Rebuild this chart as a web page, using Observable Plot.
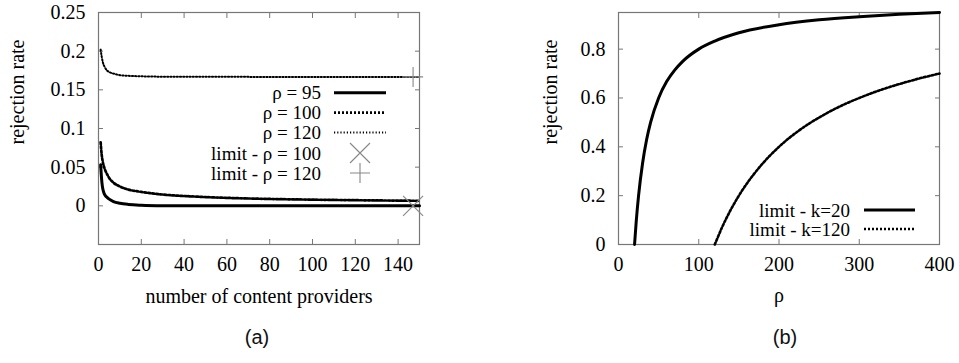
<!DOCTYPE html>
<html><head><meta charset="utf-8">
<script src="https://cdn.jsdelivr.net/npm/d3@7"></script>
<script src="https://cdn.jsdelivr.net/npm/@observablehq/plot@0.6"></script>
<style>
body{margin:0;background:#fff;}
#wrap{position:relative;width:959px;height:363px;background:#fff;overflow:hidden;}
#wrap svg text{font-family:"Liberation Serif","Times New Roman",serif !important;}
.panel{position:absolute;top:0;}
.cap{position:absolute;font-family:"Liberation Sans",Arial,sans-serif;font-size:20px;transform:translate(-50%,-50%);color:#111;}
#legend{position:absolute;left:0;top:0;pointer-events:none;}
</style></head><body>
<div id="wrap"></div>
<script>
// ---------- data: panel (a) ----------
const n95 = [1, 1.3, 1.6, 2, 2.5, 3, 4, 5, 7, 10, 14, 20, 30, 50, 100, 150];
const rate95 = [0.053, 0.040, 0.030, 0.022, 0.017, 0.014, 0.011, 0.0086, 0.0055, 0.0033, 0.0018, 0.0008, 0.0002, 0, 0, 0];
const n100 = [1, 1.5, 2, 3, 4, 5, 7, 10, 14, 20, 30, 45, 60, 80, 100, 120, 150];
const rate100 = [0.082, 0.066, 0.057, 0.047, 0.041, 0.036, 0.030, 0.025, 0.021, 0.018, 0.0146, 0.012, 0.0103, 0.0089, 0.008, 0.0073, 0.0065];
const n120 = [1, 1.5, 2, 3, 4, 5, 7, 10, 15, 20, 30, 60, 100, 150];
const rate120 = [0.202, 0.193, 0.186, 0.179, 0.175, 0.173, 0.171, 0.169, 0.168, 0.1675, 0.167, 0.1668, 0.1667, 0.1667];
const limitN = [147, 147];
const limitRate = [0, 0.1667];
const seriesA = ["ρ = 95", "ρ = 100", "ρ = 120"];
const limitLabelsA = ["limit - ρ = 100", "limit - ρ = 120"];
const xTicksA = [0, 20, 40, 60, 80, 100, 120, 140];
const yTicksA = [0, 0.05, 0.1, 0.15, 0.2, 0.25];
const yTickLabelsA = ["0", "0.05", "0.1", "0.15", "0.2", "0.25"];
const xTitleA = "number of content providers";
// ---------- data: panel (b) ----------
const rhoK20 = [20, 22, 25, 30, 35, 40, 50, 60, 70, 80, 100, 120, 150, 200, 250, 300, 350, 400];
const rateK20 = [0, 0.091, 0.2, 0.333, 0.429, 0.5, 0.6, 0.667, 0.714, 0.75, 0.8, 0.833, 0.867, 0.9, 0.92, 0.933, 0.943, 0.95];
const rhoK120 = [120, 130, 140, 150, 175, 200, 225, 250, 275, 300, 325, 350, 375, 400];
const rateK120 = [0, 0.077, 0.143, 0.2, 0.314, 0.4, 0.467, 0.52, 0.564, 0.6, 0.631, 0.657, 0.68, 0.7];
const seriesB = ["limit - k=20", "limit - k=120"];
const xTicksB = [0, 100, 200, 300, 400];
const yTicksB = [0, 0.2, 0.4, 0.6, 0.8];
const yTickLabelsB = ["0", "0.2", "0.4", "0.6", "0.8"];
const xTitleB = "ρ";
const yTitle = "rejection rate";
const captions = ["(a)", "(b)"];

// ---------- styles ----------
const FONT = '"Liberation Serif","Times New Roman",serif';
const FS = 20;
const FS_LEGEND = 19;
const FRAME = "#777";
const styleSolid = {stroke: "#000", strokeWidth: 3, strokeDasharray: null};
const styleDash = {stroke: "#000", strokeWidth: 2.7, strokeDasharray: "2,2"};
const styleDot = {stroke: "#000", strokeWidth: 2, strokeDasharray: "1.2,2"};
const styleDashB = {stroke: "#000", strokeWidth: 2.6, strokeDasharray: "2,2"};
const MARK = "#888";

const timesSym = {draw(ctx, size) {const r = Math.sqrt(size / Math.PI); ctx.moveTo(-r, -r); ctx.lineTo(r, r); ctx.moveTo(-r, r); ctx.lineTo(r, -r);}};
const plusSym = {draw(ctx, size) {const r = Math.sqrt(size / Math.PI); ctx.moveTo(-r, 0); ctx.lineTo(r, 0); ctx.moveTo(0, -r); ctx.lineTo(0, r);}};

const zip = (xs, ys) => xs.map((x, i) => ({x, y: ys[i]}));

function frameAxes(xTicks, yTicks, yLabels) {
  return [
    Plot.frame({stroke: FRAME, strokeWidth: 1.2}),
    Plot.axisX(xTicks, {anchor: "bottom", tickSize: -5, tickPadding: 17.5, stroke: FRAME, fill: "#000", label: null, fontSize: FS}),
    Plot.axisX(xTicks, {anchor: "top", tickSize: -5, tickFormat: () => "", stroke: FRAME, label: null}),
    Plot.axisY(yTicks, {anchor: "left", tickSize: -5, tickPadding: 18, stroke: FRAME, fill: "#000", label: null, fontSize: FS,
      tickFormat: d => yLabels[yTicks.indexOf(d)]}),
    Plot.axisY(yTicks, {anchor: "right", tickSize: -5, tickFormat: () => "", stroke: FRAME, label: null})
  ];
}

const wrap = document.getElementById("wrap");

const plotA = Plot.plot({
  width: 480, height: 310,
  marginLeft: 98, marginRight: 61, marginTop: 12, marginBottom: 66,
  style: {fontFamily: FONT, fontSize: FS + "px", background: "transparent", overflow: "visible"},
  x: {domain: [0, 150]},
  y: {domain: [-0.05, 0.25]},
  marks: [
    ...frameAxes(xTicksA, yTicksA, yTickLabelsA),
    Plot.line(zip(n120, rate120), {x: "x", y: "y", curve: "monotone-x", ...styleDot}),
    Plot.line(zip(n100, rate100), {x: "x", y: "y", curve: "monotone-x", ...styleDash}),
    Plot.line(zip(n95, rate95), {x: "x", y: "y", curve: "monotone-x", ...styleSolid}),
    Plot.dot([zip(limitN, limitRate)[0]], {x: "x", y: "y", r: 10, symbol: timesSym, fill: "none", stroke: MARK, strokeWidth: 1.1}),
    Plot.dot([zip(limitN, limitRate)[1]], {x: "x", y: "y", r: 10, symbol: plusSym, fill: "none", stroke: MARK, strokeWidth: 1.1}),
    Plot.text([yTitle], {text: d => d, frameAnchor: "left", textAnchor: "middle", rotate: -90, dx: -81, dy: -36.5, fontSize: FS}),
    Plot.text([xTitleA], {text: d => d, frameAnchor: "bottom", textAnchor: "middle", dy: 52, lineAnchor: "middle", fontSize: FS})
  ]
});
plotA.classList.add("panel");
plotA.style.left = "0px";
wrap.appendChild(plotA);

const plotB = Plot.plot({
  width: 479, height: 310,
  marginLeft: 138, marginRight: 20, marginTop: 12, marginBottom: 66,
  style: {fontFamily: FONT, fontSize: FS + "px", background: "transparent", overflow: "visible"},
  x: {domain: [0, 400]},
  y: {domain: [0, 0.95]},
  marks: [
    ...frameAxes(xTicksB, yTicksB, yTickLabelsB),
    Plot.line(zip(rhoK120, rateK120), {x: "x", y: "y", curve: "monotone-x", ...styleDashB}),
    Plot.line(zip(rhoK20, rateK20), {x: "x", y: "y", curve: "monotone-x", ...styleSolid}),
    Plot.text([yTitle], {text: d => d, frameAnchor: "left", textAnchor: "middle", rotate: -90, dx: -68, dy: -36.5, fontSize: FS}),
    Plot.text([xTitleB], {text: d => d, frameAnchor: "bottom", textAnchor: "middle", dy: 51, lineAnchor: "middle", fontSize: FS})
  ]
});
plotB.classList.add("panel");
plotB.style.left = "480px";
wrap.appendChild(plotB);

// captions
[[257, 337], [785, 337]].forEach((p, i) => {
  const d = document.createElement("div");
  d.className = "cap";
  d.style.left = p[0] + "px"; d.style.top = p[1] + "px";
  d.textContent = captions[i];
  wrap.appendChild(d);
});

// legends (overlay)
const svg = d3.select(wrap).append("svg").attr("id", "legend").attr("width", 959).attr("height", 363)
  .style("font-size", FS_LEGEND + "px");
function legendRow(g, y, label, textX, x1, x2, style, symbol) {
  g.append("text").attr("x", textX).attr("y", y).attr("text-anchor", "end").attr("dominant-baseline", "central").text(label);
  if (style) {
    g.append("line").attr("x1", x1).attr("x2", x2).attr("y1", y).attr("y2", y)
      .attr("stroke", style.stroke).attr("stroke-width", style.strokeWidth)
      .attr("stroke-dasharray", style.strokeDasharray);
  } else {
    const p = d3.path(); symbol.draw(p, Math.PI * 100);
    g.append("path").attr("d", p.toString()).attr("transform", `translate(${(x1 + x2) / 2},${y})`)
      .attr("fill", "none").attr("stroke", MARK).attr("stroke-width", 1.1);
  }
}
const gA = svg.append("g");
const rowsA = [92.7, 112.7, 132.5, 153, 173];
const stylesA = [styleSolid, styleDash, styleDot];
seriesA.forEach((s, i) => legendRow(gA, rowsA[i], s, 321, 334, 386, stylesA[i]));
limitLabelsA.forEach((s, i) => legendRow(gA, rowsA[3 + i], s, 321, 334, 386, null, [timesSym, plusSym][i]));
const gB = svg.append("g");
const rowsB = [210, 229];
const stylesB = [styleSolid, styleDashB];
seriesB.forEach((s, i) => legendRow(gB, rowsB[i], s, 850, 864, 915, stylesB[i]));
</script>
</body></html>
